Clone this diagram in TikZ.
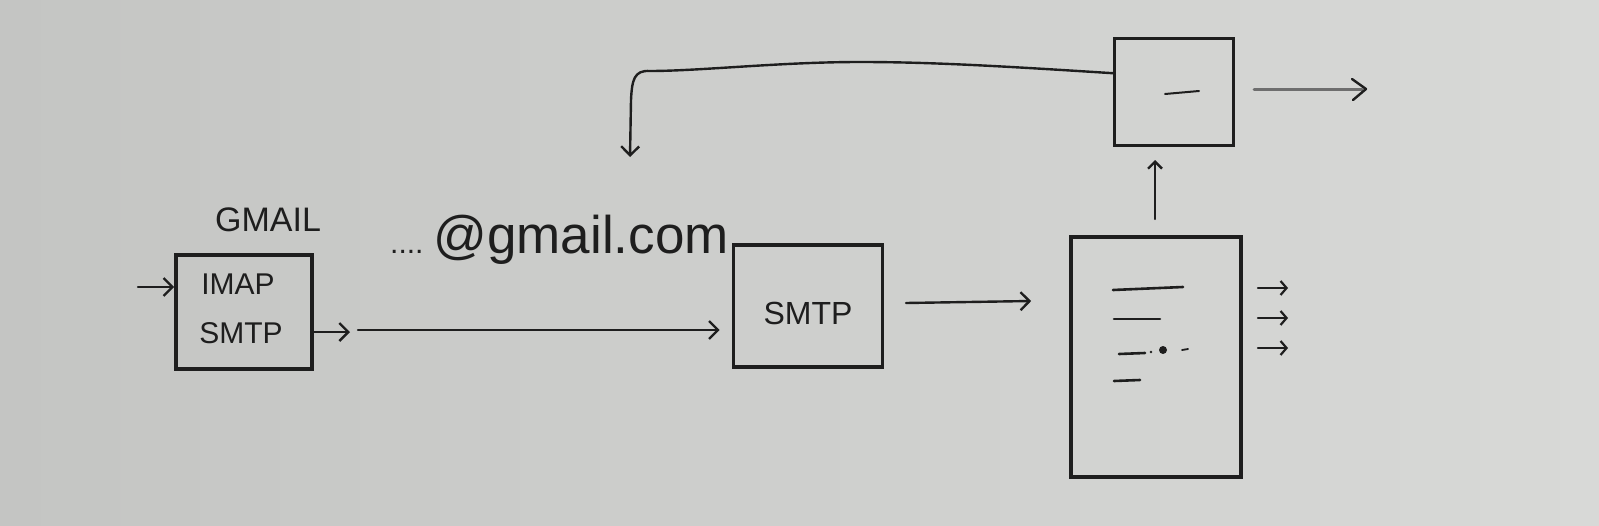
\documentclass[tikz,border=0pt]{standalone}
\usepackage{fontspec}
\setmainfont{Liberation Sans}
\usetikzlibrary{arrows.meta,calc}
\definecolor{boardL}{RGB}{196,197,195}
\definecolor{boardR}{RGB}{216,217,215}
\definecolor{ink}{RGB}{30,30,30}
\definecolor{faint}{RGB}{110,110,110}
\tikzset{
  boxy/.style={draw=ink, line width=3.6pt, rectangle, inner sep=0pt},
  arr/.style={draw=ink, line width=2.4pt, line cap=round, line join=round,
    -{Straight Barb[length=9pt,width=18pt,line width=2.4pt]}},
  stroke/.style={draw=ink, line width=2.6pt, line cap=round},
  hand/.style={text=ink, inner sep=0pt},
}
\begin{document}
\begin{tikzpicture}[x=1pt,y=-1pt]
\useasboundingbox (0,0) rectangle (1599,525);
\shade[left color=boardL, right color=boardR] (0,0) rectangle (1599,525);

% left GMAIL box
\node[boxy, minimum width=136pt, minimum height=114pt] (gmailbox) at (244,312) {};
\node[hand, font=\fontsize{34}{38}\selectfont] (gmaillbl) at (268,220) {GMAIL};
\node[hand, font=\fontsize{30}{34}\selectfont] (imap) at (238,284) {IMAP};
\node[hand, font=\fontsize{30}{34}\selectfont] (smtpA) at (241,333) {SMTP};
\coordinate (in1) at (138,287);
\draw[arr] (in1) -- (in1 -| gmailbox.west);
\coordinate (o1) at (350,332);
\draw[arr] (gmailbox.east |- o1) -- (o1);

% address
\node[hand, font=\fontsize{53}{60}\selectfont, anchor=base west] (addr) at (390,253)
  {{\fontsize{30}{30}\selectfont....}\hspace{10pt}@gmail.com};

% middle SMTP box
\node[boxy, minimum width=149pt, minimum height=122pt] (smtpbox) at (808,306) {};
\node[hand, font=\fontsize{32}{36}\selectfont] (smtpB) at (808,313) {SMTP};
\coordinate (l1) at (358,330);
\draw[arr] (l1) -- ($(l1 -| smtpbox.west)+(-12,0)$);

% tall box
\node[boxy, minimum width=170pt, minimum height=240pt] (tallbox) at (1156,357) {};
\coordinate (m1) at (906,303);
\draw[arr] (m1) -- ($(m1 -| tallbox.west)+(-38,-2)$);
\draw[stroke] (1113,290) -- (1183,287);
\draw[stroke] (1114,319) -- (1160,319);
\draw[stroke] (1119,354) -- (1145,353);
\fill[ink] (1163,350) circle (4pt);
\fill[ink] (1151,352) circle (1.4pt);
\draw[stroke, line width=1.8pt] (1182,350) -- (1188,349);
\draw[stroke] (1114,381) -- (1140,380);
\foreach \yy/\nn in {288/a,318/b,348/c}{
  \coordinate (r\nn) at (1258,\yy);
  \draw[arr, -{Straight Barb[length=6pt,width=14pt,line width=2.2pt]}] (r\nn) -- ++(30,0);
}

% top box
\node[boxy, minimum width=119pt, minimum height=107pt] (topbox) at (1174,92) {};
\draw[stroke, line width=2pt] (1165,94) -- (1199,91);
\coordinate (u1) at (1155,219);
\draw[arr, -{Straight Barb[length=7pt,width=14pt,line width=2.4pt]}] (u1) -- (1155,160);
\coordinate (t1) at (1254,89);
\draw[draw=faint, line width=3pt, line cap=round] (t1) -- (1362,89);
\draw[draw=ink, line width=2.4pt, line cap=round, line join=round] (1352,79) -- (1366,89) -- (1353,100);

% feedback connector
\coordinate (fb) at ($(topbox.north west)!0.33!(topbox.south west)$);
\coordinate (fbend) at (630,157);
\draw[arr] (fb) .. controls (1000,66) and (930,62) .. (860,62)
  .. controls (780,62) and (700,71) .. (650,71)
  .. controls (634,70) and (632,80) .. (631,100) -- (fbend);
\end{tikzpicture}
\end{document}
